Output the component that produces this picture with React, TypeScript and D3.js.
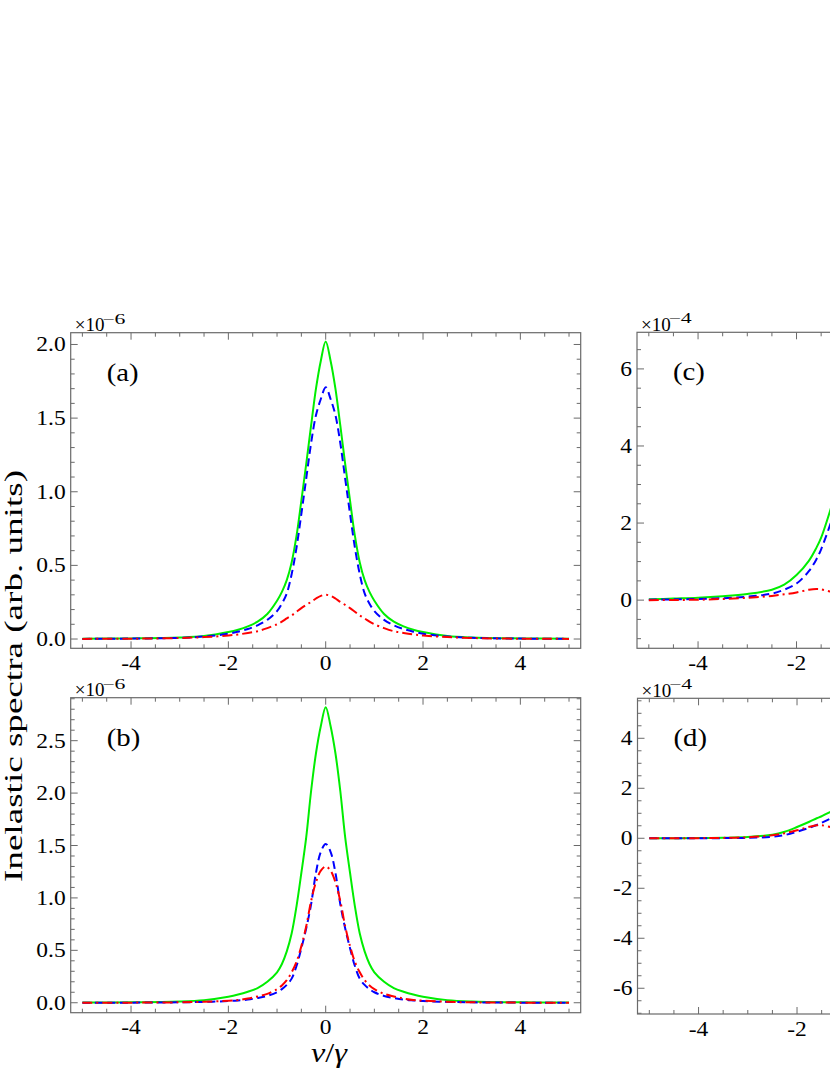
import React, { useEffect, useRef } from 'react';
import * as d3 from 'd3';

// nu/gamma grid used for panels (a) and (b)
const nuAB = [-5, -4, -3, -2.5, -2, -1.8, -1.6, -1.4, -1.2, -1, -0.9, -0.8, -0.7, -0.6, -0.5, -0.4, -0.3, -0.2, -0.1, 0,
  0.1, 0.2, 0.3, 0.4, 0.5, 0.6, 0.7, 0.8, 0.9, 1, 1.2, 1.4, 1.6, 1.8, 2, 2.5, 3, 4, 5];

const greenA = [0.002, 0.004, 0.01, 0.02, 0.047, 0.063, 0.086, 0.118, 0.17, 0.26, 0.32, 0.4, 0.52, 0.7, 0.94, 1.19, 1.45, 1.7, 1.89, 2.02,
  1.89, 1.7, 1.45, 1.19, 0.94, 0.7, 0.52, 0.4, 0.32, 0.26, 0.17, 0.118, 0.086, 0.063, 0.047, 0.02, 0.01, 0.004, 0.002];
const blueA = [0.001, 0.003, 0.008, 0.017, 0.036, 0.05, 0.068, 0.093, 0.13, 0.19, 0.24, 0.31, 0.44, 0.62, 0.85, 1.09, 1.33, 1.52, 1.63, 1.71,
  1.63, 1.52, 1.33, 1.09, 0.85, 0.62, 0.44, 0.31, 0.24, 0.19, 0.13, 0.093, 0.068, 0.05, 0.036, 0.017, 0.008, 0.003, 0.001];
const redA = [0.001, 0.002, 0.007, 0.013, 0.024, 0.031, 0.041, 0.053, 0.074, 0.1, 0.118, 0.14, 0.16, 0.185, 0.21, 0.232, 0.252, 0.275, 0.293, 0.3,
  0.293, 0.275, 0.252, 0.232, 0.21, 0.185, 0.16, 0.14, 0.118, 0.1, 0.074, 0.053, 0.041, 0.031, 0.024, 0.013, 0.007, 0.002, 0.001];

const greenB = [0.002, 0.004, 0.012, 0.025, 0.058, 0.078, 0.105, 0.14, 0.2, 0.29, 0.37, 0.49, 0.66, 0.92, 1.24, 1.58, 2.02, 2.38, 2.64, 2.82,
  2.64, 2.38, 2.02, 1.58, 1.24, 0.92, 0.66, 0.49, 0.37, 0.29, 0.2, 0.14, 0.105, 0.078, 0.058, 0.025, 0.012, 0.004, 0.002];
const blueB = [0.0005, 0.001, 0.004, 0.008, 0.016, 0.022, 0.03, 0.045, 0.065, 0.1, 0.13, 0.17, 0.23, 0.35, 0.52, 0.71, 0.94, 1.24, 1.44, 1.515,
  1.44, 1.24, 0.94, 0.71, 0.52, 0.35, 0.23, 0.17, 0.13, 0.1, 0.065, 0.045, 0.03, 0.022, 0.016, 0.008, 0.004, 0.001, 0.0005];
const redB = [0.0005, 0.001, 0.004, 0.009, 0.02, 0.026, 0.04, 0.06, 0.085, 0.13, 0.165, 0.215, 0.29, 0.39, 0.54, 0.73, 0.97, 1.15, 1.26, 1.3,
  1.26, 1.15, 0.97, 0.73, 0.54, 0.39, 0.29, 0.215, 0.165, 0.13, 0.085, 0.06, 0.04, 0.026, 0.02, 0.009, 0.004, 0.001, 0.0005];

// panels (c) and (d) run past the page edge, only the left wing shows
const nuCD = [-5, -4.5, -4, -3.5, -3, -2.5, -2.25, -2, -1.75, -1.6, -1.5, -1.25];
const greenC = [0.02, 0.04, 0.06, 0.1, 0.16, 0.27, 0.4, 0.65, 1.02, 1.35, 1.62, 2.6];
const blueC = [0.01, 0.02, 0.03, 0.05, 0.09, 0.17, 0.27, 0.43, 0.75, 1.05, 1.32, 2.2];
const redC = [0, 0.005, 0.01, 0.03, 0.06, 0.11, 0.15, 0.2, 0.27, 0.29, 0.28, 0.2];
const greenD = [0, 0.003, 0.008, 0.02, 0.05, 0.14, 0.26, 0.45, 0.66, 0.8, 0.88, 1.12];
const blueD = [0, 0.001, 0.002, 0.006, 0.017, 0.06, 0.13, 0.26, 0.42, 0.53, 0.62, 0.86];
const redD = [0, 0.003, 0.006, 0.015, 0.04, 0.12, 0.2, 0.32, 0.46, 0.52, 0.52, 0.42];

const xTicks = [-4, -2, 0, 2, 4];
const xTickLabels = ['-4', '-2', '0', '2', '4'];
const yTicksA = [0, 0.5, 1, 1.5, 2];
const yLabelsA = ['0.0', '0.5', '1.0', '1.5', '2.0'];
const yTicksB = [0, 0.5, 1, 1.5, 2, 2.5];
const yLabelsB = ['0.0', '0.5', '1.0', '1.5', '2.0', '2.5'];
const yTicksC = [0, 2, 4, 6];
const yLabelsC = ['0', '2', '4', '6'];
const yTicksD = [-6, -4, -2, 0, 2, 4];
const yLabelsD = ['-6', '-4', '-2', '0', '2', '4'];

const panels = [
  { label: '(a)', exp: '\u22126', left: 70.7, top: 332.7, width: 510, height: 315.6, yDomain: [-0.063, 2.08],
    nu: nuAB, green: greenA, blue: blueA, red: redA, yTicks: yTicksA, yLabels: yLabelsA, yMinor: 0.1 },
  { label: '(b)', exp: '\u22126', left: 70.7, top: 697.7, width: 510, height: 315, yDomain: [-0.095, 2.91],
    nu: nuAB, green: greenB, blue: blueB, red: redB, yTicks: yTicksB, yLabels: yLabelsB, yMinor: 0.1 },
  { label: '(c)', exp: '\u22124', left: 637, top: 332.3, width: 516, height: 316, yDomain: [-1.25, 6.95],
    nu: nuCD, green: greenC, blue: blueC, red: redC, yTicks: yTicksC, yLabels: yLabelsC, yMinor: 0.5 },
  { label: '(d)', exp: '\u22124', left: 637.5, top: 698.3, width: 516, height: 315.7, yDomain: [-7.03, 5.6],
    nu: nuCD, green: greenD, blue: blueD, red: redD, yTicks: yTicksD, yLabels: yLabelsD, yMinor: 0.5 },
];

const FONT = "'Liberation Serif', 'Times New Roman', Times, serif";
const FRAME = '#6a6a6a';
const PAGE_W = 830;

const App: React.FC = () => {
  const ref = useRef<SVGSVGElement | null>(null);

  useEffect(() => {
    if (!ref.current) return;
    const svg = d3.select(ref.current);
    svg.selectAll('*').remove();

    panels.forEach((p, i) => {
      const x = d3.scaleLinear().domain([-5.24, 5.24]).range([p.left, p.left + p.width]);
      const y = d3.scaleLinear().domain(p.yDomain).range([p.top + p.height, p.top]);
      const g = svg.append('g');

      const clipId = `clip-${i}`;
      g.append('clipPath').attr('id', clipId)
        .append('rect')
        .attr('x', p.left).attr('y', p.top)
        .attr('width', p.width).attr('height', p.height);

      const line = d3.line<[number, number]>()
        .x(d => x(d[0]))
        .y(d => y(d[1]))
        .curve(d3.curveCatmullRom.alpha(0.5));

      const series = [
        { values: p.green, color: '#00ee00', dash: null },
        { values: p.blue, color: '#0000ff', dash: '8,4.5' },
        { values: p.red, color: '#ff0000', dash: '10,4,2,4' },
      ];
      series.forEach(s => {
        g.append('path')
          .datum(d3.zip(p.nu, s.values) as [number, number][])
          .attr('clip-path', `url(#${clipId})`)
          .attr('d', line)
          .attr('fill', 'none')
          .attr('stroke', s.color)
          .attr('stroke-width', 2)
          .attr('stroke-dasharray', s.dash);
      });

      // frame
      g.append('rect')
        .attr('x', p.left).attr('y', p.top)
        .attr('width', p.width).attr('height', p.height)
        .attr('fill', 'none').attr('stroke', FRAME).attr('stroke-width', 1.2);

      const bottom = p.top + p.height;
      const right = p.left + p.width;
      const near = (a: number, arr: number[]) => arr.some(t => Math.abs(t - a) < 1e-6);

      // x ticks (bottom and top), pointing inwards
      const xMinor = d3.range(-5, 5.001, 0.5).filter(v => !near(v, xTicks));
      const xAll = [...xTicks.map(v => ({ v, len: 7 })), ...xMinor.map(v => ({ v, len: 4 }))];
      xAll.forEach(t => {
        g.append('line').attr('x1', x(t.v)).attr('x2', x(t.v)).attr('y1', bottom).attr('y2', bottom - t.len)
          .attr('stroke', FRAME).attr('stroke-width', 1);
        g.append('line').attr('x1', x(t.v)).attr('x2', x(t.v)).attr('y1', p.top).attr('y2', p.top + t.len)
          .attr('stroke', FRAME).attr('stroke-width', 1);
      });

      // y ticks (left and right)
      const [y0, y1] = p.yDomain;
      const start = Math.ceil(y0 / p.yMinor - 1e-6) * p.yMinor;
      const yMinor = d3.range(start, y1 + 1e-6, p.yMinor).filter(v => !near(v, p.yTicks));
      const yAll = [...p.yTicks.map(v => ({ v, len: 7 })), ...yMinor.map(v => ({ v, len: 4 }))];
      yAll.forEach(t => {
        g.append('line').attr('x1', p.left).attr('x2', p.left + t.len).attr('y1', y(t.v)).attr('y2', y(t.v))
          .attr('stroke', FRAME).attr('stroke-width', 1);
        g.append('line').attr('x1', right).attr('x2', right - t.len).attr('y1', y(t.v)).attr('y2', y(t.v))
          .attr('stroke', FRAME).attr('stroke-width', 1);
      });

      // tick labels (the ones past the page edge are not in the picture)
      xTicks.forEach((v, k) => {
        if (x(v) + 10 > PAGE_W) return;
        g.append('text')
          .attr('transform', `translate(${x(v)},${bottom + 21.5}) scale(1.12,1)`)
          .attr('text-anchor', 'middle')
          .attr('font-family', FONT).attr('font-size', 21)
          .text(xTickLabels[k]);
      });
      p.yTicks.forEach((v, k) => {
        g.append('text')
          .attr('transform', `translate(${p.left - 5},${y(v) + 7}) scale(1.12,1)`)
          .attr('text-anchor', 'end')
          .attr('font-family', FONT).attr('font-size', 21)
          .text(p.yLabels[k]);
      });

      // panel label
      g.append('text')
        .attr('transform', `translate(${p.left + 36},${p.top + 48}) scale(1.15,1)`)
        .attr('font-family', FONT).attr('font-size', 25)
        .text(p.label);

      // multiplier, Mathematica draws the exponent with a wide minus
      g.append('text')
        .attr('transform', `translate(${p.left + 4},${p.top - 1.5})`)
        .attr('font-family', FONT).attr('font-size', 19)
        .text('\u00d710');
      g.append('text')
        .attr('transform', `translate(${p.left + 31.5},${p.top - 9}) scale(1.45,1)`)
        .attr('font-family', FONT).attr('font-size', 15)
        .text(p.exp);
    });

    // axis titles
    svg.append('text')
      .attr('transform', 'translate(22,676) rotate(-90)')
      .attr('text-anchor', 'middle')
      .attr('textLength', 412)
      .attr('lengthAdjust', 'spacingAndGlyphs')
      .attr('font-family', FONT).attr('font-size', 25.5)
      .text('Inelastic spectra (arb.  units)');

    const xt = svg.append('text')
      .attr('transform', 'translate(329,1062) scale(1.15,1)')
      .attr('text-anchor', 'middle')
      .attr('font-family', FONT).attr('font-size', 28);
    xt.append('tspan').attr('font-style', 'italic').text('\u03bd');
    xt.append('tspan').text('/');
    xt.append('tspan').attr('font-style', 'italic').text('\u03b3');
  }, []);

  return (
    <svg
      ref={ref}
      width={830}
      height={1075}
      style={{ position: 'absolute', left: 0, top: 0, background: '#fff' }}
    />
  );
};

export default App;
